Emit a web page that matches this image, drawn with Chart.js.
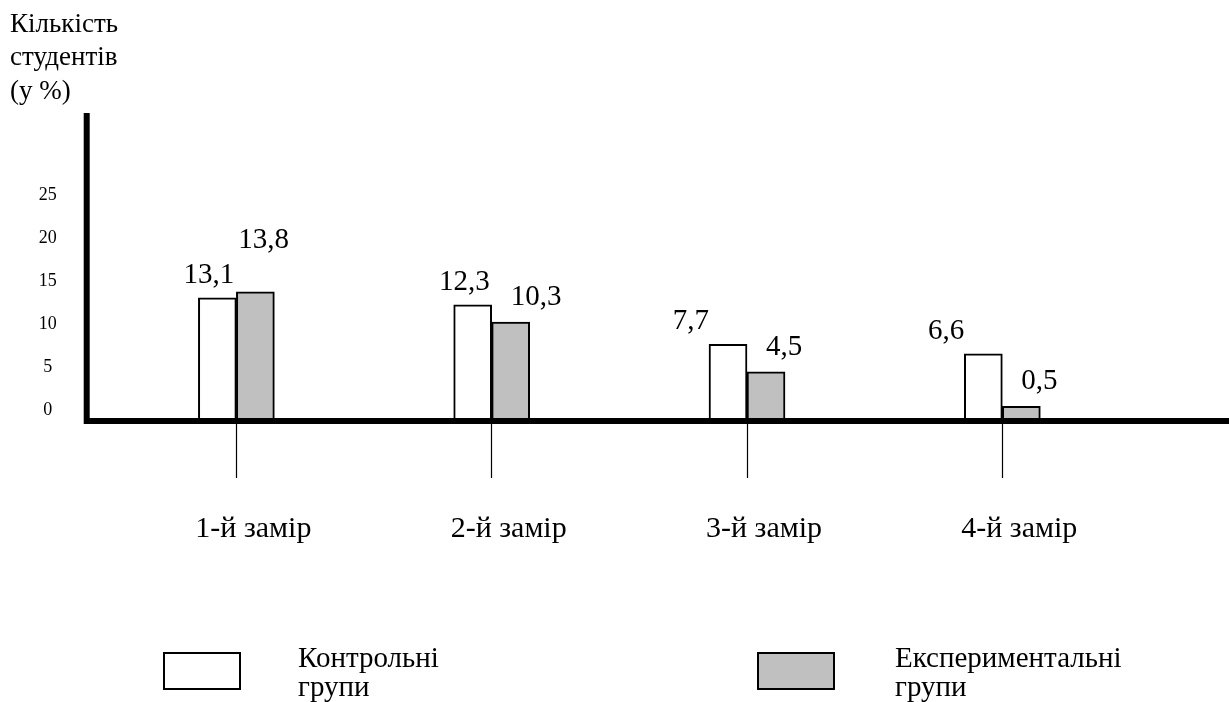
<!DOCTYPE html>
<html lang="uk">
<head>
<meta charset="utf-8">
<title>Кількість студентів (у %)</title>
<script src="https://cdn.jsdelivr.net/npm/chart.js@4/dist/chart.umd.min.js"></script>
<style>
  html, body { margin: 0; padding: 0; background: #fff; }
  canvas { display: block; }
</style>
</head>
<body>
<canvas id="chart" width="1229" height="702"></canvas>
<script>
// ---- data ----
const categories = ['1-й замір', '2-й замір', '3-й замір', '4-й замір'];
const controlValues = [13.1, 12.3, 7.7, 6.6];
const experimentalValues = [13.8, 10.3, 4.5, 0.5];
const seriesNames = ['Контрольні групи', 'Експериментальні групи'];
const yTickValues = [0, 5, 10, 15, 20, 25];
const yTitleLines = ['Кількість', 'студентів', '(у %)'];

// ---- look ----
const SERIF = "'Liberation Serif', 'Times New Roman', serif";
const Y_MIN = -1.2;
const Y_MAX = 34.6;
const AXIS_GAP = 22;          // distance of the drawn vertical axis from the plot area
const fmt = v => v.toFixed(1).replace('.', ',');

// value label nudges: [dx, dy] — control labels from the bar's right edge,
// experimental labels from the bar's left edge; dy from the bar top to the baseline
const ctrlLabelShift = [[-2, -15], [-2, -15], [-38, -15], [-38, -15]];
const expLabelShift  = [[2, -44], [19, -17], [19, -17], [19, -17]];

Chart.defaults.font.family = SERIF;
Chart.defaults.color = '#000';

// thick axis lines (vertical + long horizontal)
const axisLines = {
  id: 'axisLines',
  afterDatasetsDraw(chart) {
    const { ctx, chartArea: a } = chart;
    const x0 = a.left - AXIS_GAP;
    ctx.save();
    ctx.strokeStyle = '#000';
    ctx.lineWidth = 6;
    ctx.lineCap = 'butt';
    ctx.beginPath();
    ctx.moveTo(x0, a.top);
    ctx.lineTo(x0, a.bottom + 3);
    ctx.moveTo(x0 - 3, a.bottom);
    ctx.lineTo(chart.width, a.bottom);
    ctx.stroke();
    ctx.restore();
  }
};

// numbers above the bars
const valueLabels = {
  id: 'valueLabels',
  afterDatasetsDraw(chart) {
    const { ctx } = chart;
    ctx.save();
    ctx.font = `29px ${SERIF}`;
    ctx.fillStyle = '#000';
    ctx.textBaseline = 'alphabetic';
    chart.data.datasets.forEach((ds, di) => {
      const meta = chart.getDatasetMeta(di);
      meta.data.forEach((bar, i) => {
        const { x, y, width } = bar.getProps(['x', 'y', 'width'], true);
        const text = fmt(ds.data[i]);
        if (di === 0) {
          const [dx, dy] = ctrlLabelShift[i];
          ctx.textAlign = 'right';
          ctx.fillText(text, x + width / 2 + dx, y + dy);
        } else {
          const [dx, dy] = expLabelShift[i];
          ctx.textAlign = 'left';
          ctx.fillText(text, x - width / 2 + dx, y + dy);
        }
      });
    });
    ctx.restore();
  }
};

// legend: swatch + two-line caption for each series
const boxLegend = {
  id: 'boxLegend',
  afterDraw(chart, args, opts) {
    const { ctx } = chart;
    ctx.save();
    chart.data.datasets.forEach((ds, i) => {
      const bx = opts.itemX[i];
      const by = opts.top;
      ctx.fillStyle = ds.backgroundColor;
      ctx.fillRect(bx, by, opts.boxW, opts.boxH);
      ctx.lineWidth = 2;
      ctx.strokeStyle = '#000';
      ctx.strokeRect(bx + 1, by + 1, opts.boxW - 2, opts.boxH - 2);
      ctx.fillStyle = '#000';
      ctx.font = `29px ${SERIF}`;
      ctx.textAlign = 'left';
      ctx.textBaseline = 'alphabetic';
      ds.label.split(' ').forEach((line, k) => {
        ctx.fillText(line, bx + opts.textDx[i], opts.firstBaseline + k * opts.lineGap);
      });
    });
    ctx.restore();
  }
};

new Chart(document.getElementById('chart'), {
  type: 'bar',
  data: {
    labels: categories,
    datasets: [
      {
        label: seriesNames[0],
        data: controlValues,
        backgroundColor: '#ffffff',
        borderColor: '#000000',
        borderWidth: 2,
        borderSkipped: false,
        barThickness: 38,
        base: Y_MIN
      },
      {
        label: seriesNames[1],
        data: experimentalValues,
        backgroundColor: '#c0c0c0',
        borderColor: '#000000',
        borderWidth: 2,
        borderSkipped: false,
        barThickness: 38,
        base: Y_MIN
      }
    ]
  },
  options: {
    responsive: false,
    animation: false,
    layout: { padding: { left: 10, right: 99, top: 0, bottom: 0 } },
    scales: {
      x: {
        afterFit: s => { s.height = 281; },
        grid: {
          display: true,
          drawOnChartArea: false,
          drawTicks: true,
          tickLength: 57,
          tickWidth: 1.2,
          tickColor: '#000',
          offset: false
        },
        border: { display: false },
        ticks: {
          padding: 33,
          labelOffset: 17,
          maxRotation: 0,
          autoSkip: false,
          color: '#000',
          font: { family: SERIF, size: 30 }
        }
      },
      y: {
        min: Y_MIN,
        max: Y_MAX,
        afterBuildTicks: s => { s.ticks = yTickValues.map(v => ({ value: v })); },
        afterFit: s => { s.width = 98.7; },
        grid: { display: false, drawTicks: false },
        border: { display: false },
        ticks: {
          padding: 52,
          crossAlign: 'center',
          color: '#000',
          font: { family: SERIF, size: 18 },
          callback: v => String(v)
        }
      }
    },
    plugins: {
      legend: { display: false },
      tooltip: { enabled: false },
      title: {
        display: true,
        text: yTitleLines,
        align: 'start',
        color: '#000',
        font: { family: SERIF, size: 27, weight: 'normal', lineHeight: 1.24 },
        padding: { top: 8, bottom: 4.5 }
      },
      boxLegend: {
        itemX: [163, 757],
        textDx: [135, 138],
        top: 652,
        boxW: 78,
        boxH: 38,
        firstBaseline: 667,
        lineGap: 29
      }
    }
  },
  plugins: [axisLines, valueLabels, boxLegend]
});
</script>
</body>
</html>
